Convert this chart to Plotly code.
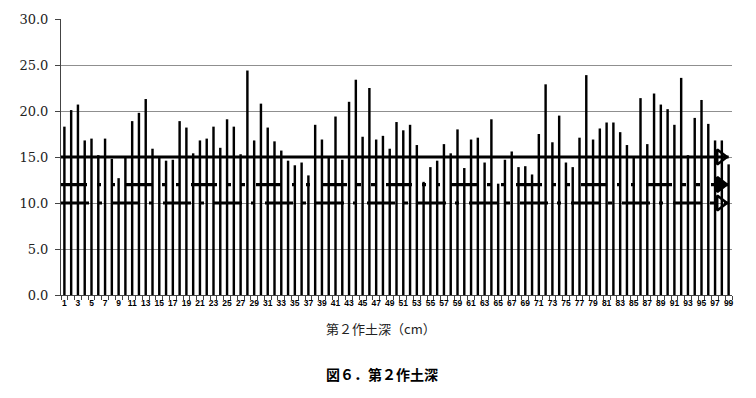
import plotly.graph_objects as go

categories = list(range(1, 100))
values = [
    18.3, 20.1, 20.7, 16.8, 17.0, 15.2, 17.0, 14.8, 12.7, 14.9,
    18.9, 19.8, 21.3, 15.9, 15.0, 14.6, 14.7, 18.9, 18.2, 15.4,
    16.8, 17.0, 18.3, 16.0, 19.1, 18.3, 15.3, 24.4, 16.8, 20.8,
    18.2, 16.7, 15.7, 14.6, 14.1, 14.4, 13.0, 18.5, 16.9, 15.0,
    19.4, 14.7, 21.0, 23.4, 17.2, 22.5, 16.9, 17.3, 15.9, 18.8,
    17.9, 18.5, 16.3, 12.3, 13.9, 14.6, 16.4, 15.4, 18.0, 13.8,
    16.9, 17.1, 14.4, 19.1, 12.1, 14.7, 15.6, 13.9, 14.0, 13.1,
    17.5, 22.9, 16.6, 19.5, 14.4, 13.9, 17.1, 23.9, 16.9, 18.1,
    18.75, 18.75, 17.7, 16.3, 15.1, 21.4, 16.4, 21.9, 20.7, 20.2,
    18.5, 23.6, 15.2, 19.25, 21.2, 18.6, 16.8, 16.8, 14.2,
]
ref_levels = [15, 12, 10]
ref_dash = ["solid", "26px,10px,4px,10px,4px,11px", "28px,9px,4px,10px"]
ref_arrow = ["triangle-right-open", "triangle-right", "triangle-right-open"]
line_x = [0.5, 99.0]
arrow_x = 97.8

y_ticks = [0, 5, 10, 15, 20, 25, 30]
y_labels = [f"{v:.1f}" for v in y_ticks]
x_ticks = list(range(1, 100, 2))

fig = go.Figure()
fig.add_trace(go.Bar(x=categories, y=values, marker=dict(color="black", line=dict(width=0)),
                     width=0.36, showlegend=False))

for lvl, dash, sym in zip(ref_levels, ref_dash, ref_arrow):
    fig.add_trace(go.Scatter(x=line_x, y=[lvl, lvl], mode="lines",
                             line=dict(color="black", width=3.2, dash=dash),
                             showlegend=False, hoverinfo="skip"))
    fig.add_trace(go.Scatter(x=[arrow_x], y=[lvl], mode="markers",
                             marker=dict(symbol=sym, size=13, color="black",
                                         line=dict(color="black", width=2.5)),
                             cliponaxis=False, showlegend=False, hoverinfo="skip"))

fig.update_layout(
    width=756, height=398,
    margin=dict(l=61, r=24, t=15, b=103),
    paper_bgcolor="white", plot_bgcolor="white",
    xaxis=dict(
        range=[0.5, 99.5], tickmode="array", tickvals=x_ticks,
        ticktext=[str(t) for t in x_ticks],
        tickfont=dict(family="Liberation Sans", size=8.5, color="black", weight="bold"),
        ticks="", showgrid=False, zeroline=False,
        showline=True, linecolor="#444", linewidth=1,
        minor=dict(tick0=0.5, dtick=1, ticks="outside", ticklen=4, tickcolor="#444"),
        tickangle=0,
    ),
    yaxis=dict(
        range=[0, 30], tickmode="array", tickvals=y_ticks, ticktext=y_labels,
        tickfont=dict(family="DejaVu Serif", size=13, color="#222"),
        showgrid=True, gridcolor="#8f8f8f", gridwidth=1, zeroline=False,
        showline=True, linecolor="#444", linewidth=1,
        ticks="outside", ticklen=5, tickcolor="#444", ticklabelstandoff=4,
    ),
    annotations=[
        dict(text="第２作土深（cm）", xref="paper", yref="paper",
             x=0.477, y=-0.12, xanchor="center", yanchor="middle", showarrow=False,
             font=dict(family="Noto Sans CJK JP", size=13, color="#222")),
        dict(text="<b>図６．第２作土深</b>", xref="paper", yref="paper",
             x=0.478, y=-0.285, xanchor="center", yanchor="middle", showarrow=False,
             font=dict(family="Noto Sans CJK JP", size=14, color="black")),
    ],
)

fig.write_html("out.html")
